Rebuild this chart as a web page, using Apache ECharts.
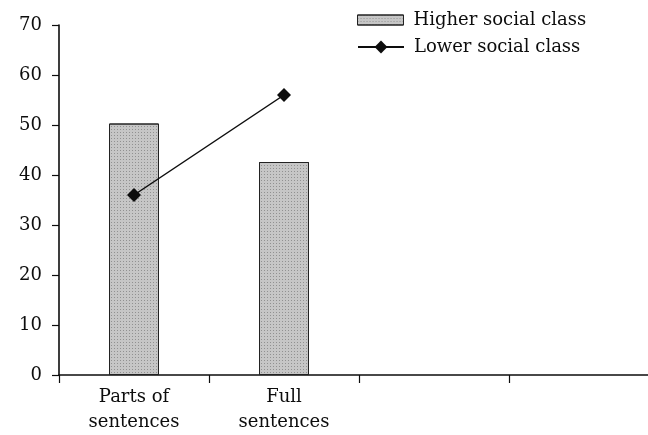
<!DOCTYPE html>
<html>
<head>
<meta charset="utf-8">
<script src="https://cdn.jsdelivr.net/npm/echarts@6/dist/echarts.min.js"></script>
<style>
  html, body { margin: 0; padding: 0; background: #fff; overflow: hidden; }
  /* the x axis runs past the right edge of the picture, so the chart is a bit wider than the window */
  #chart { width: 660px; height: 435px; }
</style>
</head>
<body>
<div id="chart"></div>
<script>
// values
var categories = ['Parts of\nsentences', 'Full\nsentences', '', ''];
var higherClass = [50.3, 42.6, '-', '-'];
var lowerClass = [36, 56, '-', '-'];
var yMin = 0, yMax = 70, yStep = 10;

var serif = 'DejaVu Serif';
var ink = '#0d0d0d';
var barFill = '#c6c6c6';
var stipple = {
    symbol: 'rect',
    symbolSize: 1,
    dashArrayX: [1, 2],
    dashArrayY: [1, 2],
    color: 'rgba(80,80,80,0.45)'
};

var chart = echarts.init(document.getElementById('chart'));
chart.setOption({
    backgroundColor: '#fff',
    animation: false,
    textStyle: { fontFamily: serif },
    legend: [
        {
            left: 352,
            top: 6,
            itemWidth: 46,
            itemHeight: 10,
            textStyle: { fontFamily: serif, fontSize: 18, color: ink, padding: [0, 0, 0, 5] },
            data: [
                { name: 'Higher social class', icon: 'rect', itemStyle: { color: barFill, borderColor: '#222', borderWidth: 1, decal: stipple } }
            ]
        },
        {
            left: 352,
            top: 33,
            itemWidth: 46,
            itemHeight: 16,
            textStyle: { fontFamily: serif, fontSize: 18, color: ink, padding: [0, 0, 0, 5] },
            data: ['Lower social class']
        }
    ],
    grid: { left: 59, right: 1, top: 25, bottom: 57 },
    xAxis: {
        type: 'category',
        data: categories,
        boundaryGap: true,
        axisLine: { lineStyle: { color: ink, width: 1.6 } },
        axisTick: { show: true, interval: 0, length: 8, lineStyle: { color: ink, width: 1.2 } },
        axisLabel: { interval: 0, fontFamily: serif, fontSize: 18, color: ink, margin: 10, lineHeight: 25 }
    },
    yAxis: {
        type: 'value',
        min: yMin,
        max: yMax,
        interval: yStep,
        splitLine: { show: false },
        axisLine: { show: true, lineStyle: { color: ink, width: 1.6 } },
        axisTick: { show: true, length: 7, lineStyle: { color: ink, width: 1.2 } },
        axisLabel: { fontFamily: serif, fontSize: 18, color: ink, margin: 17 }
    },
    series: [
        {
            name: 'Higher social class',
            type: 'bar',
            data: higherClass,
            barWidth: 50,
            itemStyle: {
                color: barFill,
                borderColor: '#222',
                borderWidth: 1,
                decal: stipple
            }
        },
        {
            name: 'Lower social class',
            type: 'line',
            data: lowerClass,
            symbol: 'diamond',
            symbolSize: 14,
            itemStyle: { color: ink },
            lineStyle: { color: ink, width: 1.5 },
            z: 3
        }
    ]
});
</script>
</body>
</html>
